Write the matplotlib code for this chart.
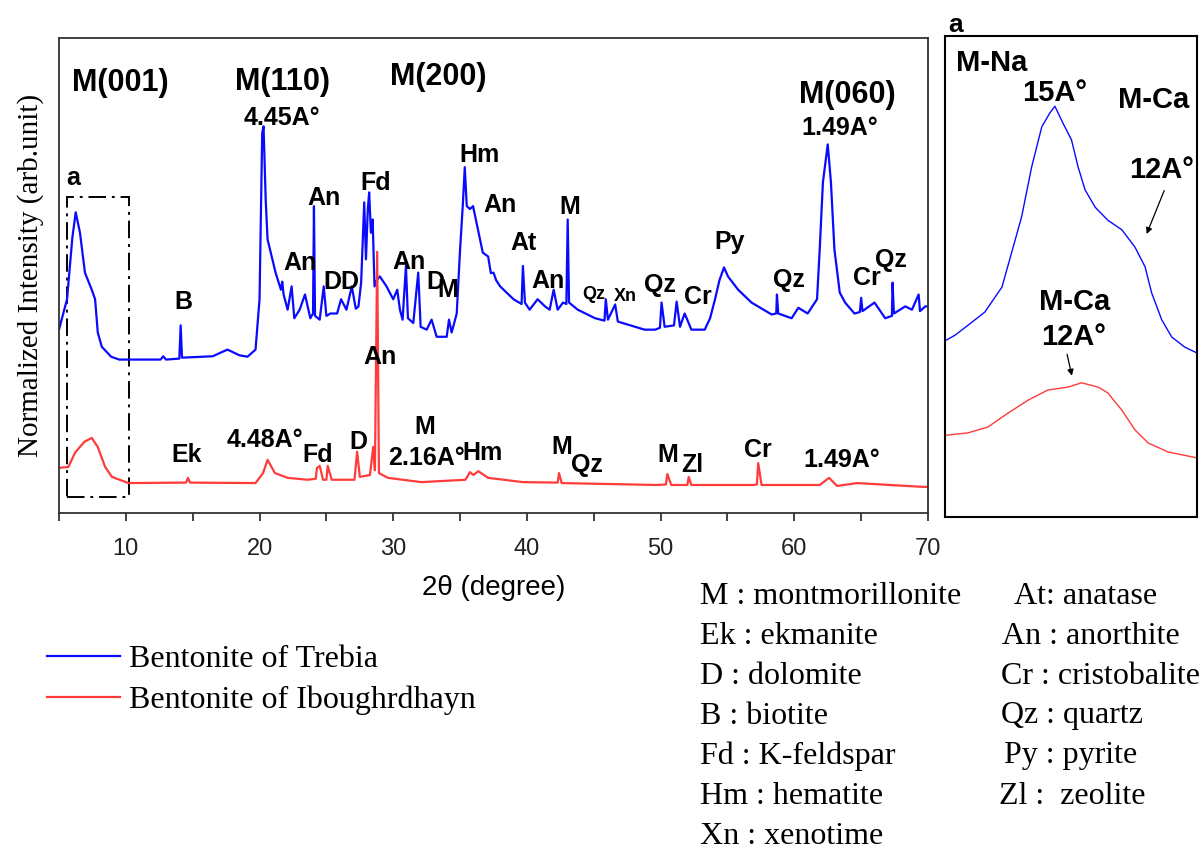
import matplotlib
matplotlib.use("Agg")
import matplotlib.pyplot as plt
from matplotlib.patches import Rectangle

# --- data (2theta in degrees, normalized intensity) ---
two_theta_trebia = [
    5.0, 5.6, 6.0, 6.25, 6.57, 6.94, 7.45, 7.7, 7.9, 8.2, 8.9, 9.5, 12.6, 12.8, 13.0,
    14.0, 14.1, 14.2, 16.5, 17.6, 18.5, 19.1, 19.7, 20.0, 20.2, 20.3, 20.46, 20.6,
    21.2, 21.6, 21.7, 21.8, 22.1, 22.4, 22.6, 23.0, 23.4, 23.8, 24.0, 24.07, 24.15,
    24.5, 24.8, 25.0, 25.3, 25.8, 26.1, 26.5, 26.9, 27.2, 27.4, 27.6, 27.83, 27.96,
    28.1, 28.2, 28.33, 28.46, 28.6, 28.76, 29.0, 29.5, 30.0, 30.3, 30.5, 30.7, 30.95,
    31.1, 31.5, 31.87, 32.05, 32.5, 32.87, 33.25, 34.0, 34.17, 34.37, 34.75, 35.0,
    35.2, 35.35, 35.5, 35.74, 35.97, 36.24, 36.7, 37.1, 37.3, 37.5, 37.7, 38.0, 39.0,
    39.6, 39.7, 39.85, 40.2, 40.8, 41.35, 41.7, 42.0, 42.3, 42.7, 42.95, 43.05, 43.15,
    43.8, 45.1, 45.8, 45.9, 46.06, 46.6, 46.8, 48.8, 49.6, 49.95, 50.07, 50.3, 51.0,
    51.2, 51.45, 51.8, 52.3, 53.3, 53.7, 54.07, 54.4, 54.74, 55.04, 55.8, 56.8, 58.3,
    58.65, 58.7, 58.8, 59.8, 60.3, 61.0, 61.7, 61.9, 62.14, 62.5, 62.74, 63.0, 63.4,
    63.8, 64.5, 64.9, 65.0, 65.1, 66.0, 66.8, 67.3, 67.35, 67.45, 68.3, 68.8, 69.3,
    69.4, 69.8, 70.0,
]
intensity_trebia = [
    38.6, 45.0, 58.0, 63.3, 59.0, 50.6, 47.0, 45.0, 38.0, 35.0, 32.9, 32.3, 32.3, 33.0, 32.3,
    32.5, 39.5, 32.7, 33.0, 34.4, 33.2, 32.9, 34.4, 45.0, 80.0, 81.4, 66.0, 57.6,
    50.6, 47.0, 48.7, 46.0, 42.8, 47.7, 41.0, 42.8, 46.0, 41.0, 42.0, 64.6, 41.5,
    40.7, 47.7, 41.5, 42.0, 42.0, 45.0, 42.8, 47.7, 43.0, 43.5, 48.5, 65.4, 53.4,
    64.0, 67.5, 59.0, 61.8, 47.7, 49.0, 49.8, 47.7, 45.0, 47.0, 42.8, 40.7, 52.0,
    41.0, 40.0, 50.6, 39.2, 38.6, 40.7, 37.1, 37.1, 40.7, 38.0, 42.0, 55.5,
    64.6, 72.8, 64.6, 64.0, 64.6, 61.0, 54.8, 54.0, 50.5, 50.6, 49.0, 47.7, 45.0,
    44.0, 52.0, 44.3, 42.8, 45.0, 43.5, 42.8, 47.0, 42.8, 44.3, 44.0, 61.8, 44.3,
    42.8, 41.0, 40.5, 45.0, 40.7, 43.9, 40.3, 38.6, 38.6, 39.0, 44.3, 39.2, 39.5,
    44.5, 39.2, 42.0, 38.6, 38.6, 41.0, 45.0, 49.0, 51.7, 49.8, 47.0, 44.3, 41.8,
    42.0, 46.0, 42.0, 41.0, 43.2, 42.0, 45.0, 55.5, 69.6, 77.6, 69.6, 55.5, 46.4,
    44.3, 42.0, 42.3, 45.3, 42.5, 44.3, 41.0, 41.5, 48.5, 42.0, 43.5, 42.8, 46.0,
    42.5, 43.5, 43.5,
]

two_theta_iboughrdhayn = [
    5.0, 5.7, 6.2, 6.9, 7.45, 7.9, 8.45, 8.96, 10.2, 14.5, 14.65, 14.8, 19.7, 20.26,
    20.6, 21.15, 22.1, 23.6, 24.2, 24.3, 24.5, 24.75, 25.0, 25.1, 25.4, 27.1, 27.3,
    27.5, 28.26, 28.5, 28.63, 28.8, 28.93, 29.6, 32.1, 35.4, 35.74, 36.0, 36.36, 37.1,
    39.7, 42.3, 42.4, 42.6, 49.7, 50.4, 50.5, 50.8, 52.0, 52.1, 52.3, 56.9, 57.2,
    57.3, 57.55, 61.9, 62.6, 63.2, 64.7, 69.6, 70.0,
]
intensity_iboughrdhayn = [
    9.5, 9.7, 12.7, 15.0, 15.8, 13.9, 9.7, 7.6, 6.3, 6.4, 7.4, 6.4, 6.3, 8.4,
    11.2, 8.4, 7.4, 7.0, 7.2, 9.5, 9.9, 7.0, 7.0, 9.9, 7.0, 7.0, 12.9,
    7.6, 8.0, 13.9, 9.0, 55.0, 8.4, 7.4, 6.5, 7.0, 8.6, 8.0, 8.8, 7.4,
    6.5, 6.4, 8.4, 6.3, 5.9, 6.0, 8.2, 5.9, 5.9, 7.6, 5.9, 5.9, 6.0,
    10.5, 5.9, 5.9, 7.4, 5.7, 6.3, 5.5, 5.5,
]

# zoomed region "a" (M(001) reflection)
inset_two_theta_trebia = [5.03, 5.2, 5.46, 5.79, 6.13, 6.32, 6.52, 6.72, 6.92, 7.08, 7.18,
                          7.34, 7.51, 7.64, 7.78, 7.98, 8.23, 8.51, 8.77, 8.97, 9.1, 9.3,
                          9.5, 9.76, 10.0]
inset_intensity_trebia = [36.8, 37.8, 39.9, 42.6, 47.8, 54.9, 62.4, 72.8, 81.1, 84.0, 85.4,
                          81.9, 78.4, 72.8, 68.0, 64.4, 61.7, 59.7, 56.1, 52.0, 46.6, 41.0,
                          37.4, 35.3, 34.1]
inset_two_theta_iboughrdhayn = [5.03, 5.46, 5.85, 6.25, 6.65, 7.04, 7.44, 7.71, 8.04, 8.23,
                                8.51, 8.77, 9.03, 9.43, 10.0]
inset_intensity_iboughrdhayn = [17.0, 17.5, 18.7, 21.6, 24.3, 26.4, 27.0, 27.9, 27.0, 25.8,
                                22.2, 18.1, 15.4, 13.5, 12.3]

# peak labels: (text, 2theta, intensity, size class)
peak_labels = [
    ("M(001)", 9.56, 90.5, "big"), ("M(110)", 21.75, 90.7, "big"),
    ("M(200)", 33.35, 91.8, "big"), ("M(060)", 63.94, 88.0, "big"),
    ("4.45A°", 21.68, 83.2, "mid"), ("1.49A°", 63.41, 81.1, "mid"),
    ("a", 6.05, 70.5, "mid"), ("B", 14.27, 44.4, "mid"),
    ("An", 24.82, 66.3, "mid"), ("An", 23.03, 52.6, "mid"), ("DD", 26.09, 48.6, "mid"),
    ("Fd", 28.71, 69.5, "mid"), ("An", 31.18, 52.8, "mid"), ("D", 33.12, 48.6, "mid"),
    ("M", 34.1, 46.9, "mid"), ("Hm", 36.49, 75.4, "mid"), ("An", 37.98, 64.8, "mid"),
    ("At", 39.78, 56.8, "mid"), ("An", 41.57, 48.8, "mid"), ("M", 43.22, 64.4, "mid"),
    ("Qz", 45.01, 45.9, "small"), ("Xn", 47.33, 45.5, "small"), ("Qz", 49.95, 48.0, "mid"),
    ("Cr", 52.79, 45.5, "mid"), ("Py", 55.19, 57.1, "mid"), ("Qz", 59.6, 49.1, "mid"),
    ("Cr", 65.43, 49.5, "mid"), ("Qz", 67.23, 53.3, "mid"),
    ("An", 29.01, 32.8, "mid"), ("Ek", 14.57, 12.2, "mid"), ("4.48A°", 20.41, 15.4, "mid"),
    ("Fd", 24.37, 12.2, "mid"), ("D", 27.36, 14.9, "mid"), ("M", 32.37, 18.1, "mid"),
    ("2.16A°", 32.52, 11.6, "mid"), ("Hm", 36.71, 12.6, "mid"), ("M", 42.62, 13.9, "mid"),
    ("Qz", 44.49, 10.1, "mid"), ("M", 50.55, 12.2, "mid"), ("Zl", 52.35, 10.1, "mid"),
    ("Cr", 57.28, 13.3, "mid"), ("1.49A°", 63.56, 11.2, "mid"),
]
inset_labels = [
    ("M-Na", 5.93, 94.3), ("15A°", 7.18, 88.1), ("M-Ca", 9.13, 86.7),
    ("12A°", 9.3, 72.1), ("M-Ca", 7.58, 44.8), ("12A°", 7.55, 37.5),
]
# arrows in the inset: (from 2theta, from I, to 2theta, to I)
inset_arrows = [(9.37, 68.4, 8.98, 58.3), (7.41, 34.4, 7.53, 28.8)]

series_names = ["Bentonite of Trebia", "Bentonite of Iboughrdhayn"]
key_left = ["M : montmorillonite", "Ek : ekmanite", "D : dolomite", "B : biotite",
            "Fd : K-feldspar", "Hm : hematite", "Xn : xenotime"]
key_right = ["At: anatase", "An : anorthite", "Cr : cristobalite", "Qz : quartz",
             "Py : pyrite", "Zl :  zeolite"]
key_right_x = [1014, 1002, 1001, 1001, 1004, 999]

BLUE = "#0a0aff"
RED = "#ff3b3b"
SANS = "Liberation Sans"
SERIF = "Liberation Serif"
sizes = {"big": 22, "mid": 18, "small": 13}

fig = plt.figure(figsize=(12, 8.5), dpi=100)
W, H = 1200, 850


def px_axes(left, top, right, bottom):
    return fig.add_axes([left / W, (H - bottom) / H, (right - left) / W, (bottom - top) / H])


ax = px_axes(59, 38, 928, 513)
l1, = ax.plot(two_theta_trebia, intensity_trebia, color=BLUE, lw=1.6)
l2, = ax.plot(two_theta_iboughrdhayn, intensity_iboughrdhayn, color=RED, lw=1.6)
ax.set_xlim(5, 70)
ax.set_ylim(0, 100)
ax.set_xticks(range(10, 71, 10))
ax.set_xticks(range(5, 70, 10), minor=True)
ax.set_yticks([])
ax.tick_params(axis="x", which="both", direction="out", length=6, width=1.2,
               labelsize=17, pad=12, colors="#222222")
for lab in ax.get_xticklabels():
    lab.set_fontfamily(SANS)
for sp in ax.spines.values():
    sp.set_color("#333333")
    sp.set_linewidth(1.3)
ax.set_xlabel("2θ (degree)", fontsize=20, fontfamily=SANS, labelpad=11)
ax.set_ylabel("Normalized Intensity (arb.unit)", fontsize=21, fontfamily=SERIF, labelpad=11)

ax.add_patch(Rectangle((5.6, 3.4), 10.2 - 5.6, 66.5 - 3.4, fill=False, color="black",
                       lw=1.4, linestyle=(0, (9, 3, 1.5, 3))))

for text, x, y, size in peak_labels:
    ax.text(x, y, text, ha="center", va="center", fontsize=sizes[size],
            fontweight="bold", fontfamily=SANS)

# inset "a"
axi = px_axes(945, 36, 1197, 517)
axi.plot(inset_two_theta_trebia, inset_intensity_trebia, color=BLUE, lw=1.0)
axi.plot(inset_two_theta_iboughrdhayn, inset_intensity_iboughrdhayn, color=RED, lw=1.0)
axi.set_xlim(5, 10)
axi.set_ylim(0, 100)
axi.set_xticks([])
axi.set_yticks([])
for sp in axi.spines.values():
    sp.set_color("black")
    sp.set_linewidth(1.5)
for text, x, y in inset_labels:
    axi.text(x, y, text, ha="center", va="center", fontsize=21,
             fontweight="bold", fontfamily=SANS)
for x0, y0, x1, y1 in inset_arrows:
    axi.annotate("", xy=(x1, y1), xytext=(x0, y0),
                 arrowprops=dict(arrowstyle="-|>", color="black", lw=0.9,
                                 mutation_scale=9))
fig.text(956 / W, 1 - 25 / H, "a", ha="center", va="center", fontsize=19,
         fontweight="bold", fontfamily=SANS)

fig.legend([l1, l2], series_names, loc="upper left", bbox_to_anchor=(47 / W, 1 - 645 / H),
           frameon=False, prop={"family": SERIF, "size": 23}, handlelength=2.3,
           handletextpad=0.28, labelspacing=0.36, borderaxespad=0, borderpad=0)

for i, txt in enumerate(key_left):
    fig.text(700 / W, 1 - (596 + 40 * i) / H, txt, ha="left", va="center",
             fontsize=23, fontfamily=SERIF)
for i, txt in enumerate(key_right):
    fig.text(key_right_x[i] / W, 1 - (596 + 40 * i) / H, txt, ha="left", va="center",
             fontsize=23, fontfamily=SERIF)

fig.savefig("out.png", dpi=100)
